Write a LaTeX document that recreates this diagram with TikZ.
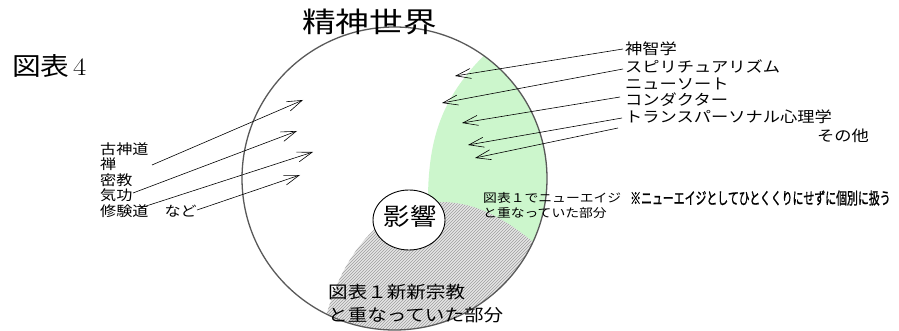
\documentclass[tikz,border=0pt]{standalone}
\usepackage{fontspec}
\usepackage{graphicx}
\newfontfamily\jp{Noto Sans CJK JP}
\newfontfamily\jpheavy[FakeBold=1.3]{Noto Sans CJK JP}
\usetikzlibrary{patterns,arrows.meta,shapes.geometric}
\definecolor{ngreen}{RGB}{204,246,204}
\newcommand{\jt}[3]{\scalebox{#2}[1]{\fontsize{#1}{#1}\selectfont\jp #3}}
\tikzset{
  txt/.style={inner sep=0pt, anchor=west},
  arr/.style={line width=0.6pt, -{Straight Barb[length=15pt,width=10pt]}},
}
\begin{document}
\begin{tikzpicture}[x=1pt,y=-1pt]
\useasboundingbox (0,0) rectangle (899,331);
\fill[white] (0,0) rectangle (899,331);
% regions inside the world circle
\begin{scope}
  \clip (394.5,178.5) ellipse [x radius=152.5, y radius=151.5];
  \fill[ngreen] (495,45) .. controls (440,95) and (427,140) .. (428,210) -- (428,345) -- (600,345) -- (600,0) -- cycle;
  \fill[black!10] (300,345) -- (327,313) .. controls (345,250) and (385,203) .. (440,202) .. controls (480,202) and (510,222) .. (545,252) -- (560,345) -- cycle;
  \fill[pattern=north east lines, pattern color=black!38] (300,345) -- (327,313) .. controls (345,250) and (385,203) .. (440,202) .. controls (480,202) and (510,222) .. (545,252) -- (560,345) -- cycle;
\end{scope}
\node[draw=black!65, line width=1.3pt, ellipse, minimum width=305, minimum height=303, inner sep=0pt] (world) at (394.5,178.5) {};

% title and figure label
\node[txt] (title) at (302,22) {\jt{28}{1.2}{精神世界}};
\node[txt] (fig) at (12,66) {\scalebox{1.15}[1]{\fontsize{25}{25}\selectfont{\jp 図表}\hspace{3pt}4}};

% left list
\node[txt] (l1) at (100,149.5) {\jt{14}{1.15}{古神道}};
\node[txt] (l2) at (100,164.5) {\jt{14}{1.15}{禅}};
\node[txt] (l3) at (100,180) {\jt{14}{1.15}{密教}};
\node[txt] (l4) at (100,195.5) {\jt{14}{1.15}{気功}};
\node[txt] (l5) at (100,211) {\jt{14}{1.15}{修験道　など}};

% right list
\node[txt] (r1) at (625,49) {\jt{15}{1.15}{神智学}};
\node[txt] (r2) at (625,66.5) {\jt{15}{1.15}{スピリチュアリズム}};
\node[txt] (r3) at (625,83.5) {\jt{15}{1.15}{ニューソート}};
\node[txt] (r4) at (625,100) {\jt{15}{1.15}{コンダクター}};
\node[txt] (r5) at (625,117) {\jt{15}{1.15}{トランスパーソナル心理学}};
\node[txt] (r6) at (817,136) {\jt{15}{1.15}{その他}};

% influence ellipse
\node[draw, ellipse, fill=white, line width=0.9pt, minimum width=72, minimum height=60, inner sep=0pt] (infl) at (409,220) {};
\node (inflt) at (410,216) {\jt{24}{1.1}{影響}};

% region labels
\node[txt] (g1) at (328,292) {\jt{17}{1.15}{図表１新新宗教}};
\node[txt] (g2) at (328,315) {\jt{17}{1.15}{と重なっていた部分}};
\node[txt] (n1) at (483,198) {\jt{12}{1.15}{図表１でニューエイジ}};
\node[txt] (n2) at (483,212.5) {\jt{12}{1.15}{と重なっていた部分}};
\node[txt] (note) at (630,198) {\scalebox{0.66}[1]{\fontsize{16.5}{16.5}\selectfont\jpheavy ※ニューエイジとしてひとくくりにせずに個別に扱う}};

% arrows from the left
\coordinate (a1s) at (152,165); \coordinate (a1e) at (303,100);
\coordinate (a2s) at (133,193); \coordinate (a2e) at (297,131);
\coordinate (a3s) at (140,208); \coordinate (a3e) at (313,152);
\coordinate (a4s) at (197,210); \coordinate (a4e) at (300,175);
\draw[arr] (a1s) -- (a1e);
\draw[arr] (a2s) -- (a2e);
\draw[arr] (a3s) -- (a3e);
\draw[arr] (a4s) -- (a4e);

% arrows from the right
\coordinate (b1s) at (623,49);  \coordinate (b1e) at (455,76);
\coordinate (b2s) at (623,69);  \coordinate (b2e) at (442,103);
\coordinate (b3s) at (620,97);  \coordinate (b3e) at (462,123);
\coordinate (b4s) at (622,118); \coordinate (b4e) at (468,145);
\coordinate (b5s) at (618,128); \coordinate (b5e) at (475,158);
\draw[arr] (b1s) -- (b1e);
\draw[arr] (b2s) -- (b2e);
\draw[arr] (b3s) -- (b3e);
\draw[arr] (b4s) -- (b4e);
\draw[arr] (b5s) -- (b5e);
\end{tikzpicture}
\end{document}
